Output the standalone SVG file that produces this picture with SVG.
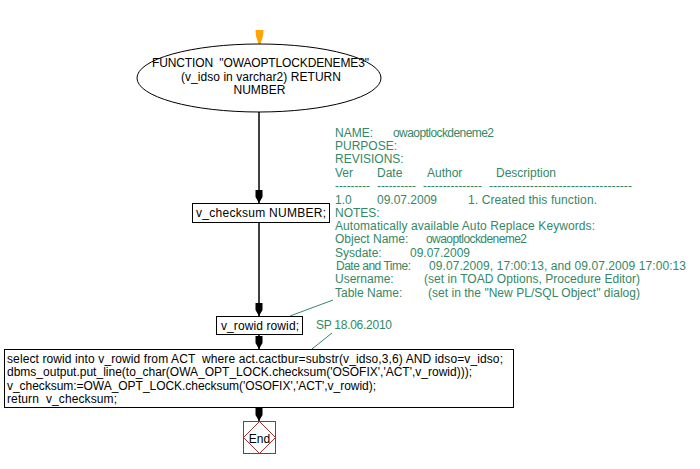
<svg xmlns="http://www.w3.org/2000/svg" width="700" height="469" viewBox="0 0 700 469">
<defs>
<style>
text{font-family:"Liberation Sans",Arial,sans-serif;font-size:12px;fill:#000;white-space:pre}
.c text{fill:#338866}
.box{fill:#fff;stroke:#000;stroke-width:1}
.flow{stroke:#000;stroke-width:1.5;fill:none}
.note{stroke:#338866;stroke-width:1;fill:none}
</style>
<marker id="ah" markerWidth="13" markerHeight="8" refX="13" refY="4" orient="auto" markerUnits="userSpaceOnUse" viewBox="0 0 13 8">
<path d="M0,0.5 L7,0.5 L13,4 L7,7.5 L0,7.5 Z" fill="#000"/>
</marker>
</defs>
<rect width="700" height="469" fill="#fff"/>

<g id="start">
<path d="M255.5,30 L263.5,30 L263,36 L260.5,44 L258.5,44 L256,36 Z" fill="#FFA500"/>
</g>

<g id="connectors">
<line class="flow" x1="259" y1="112" x2="259" y2="203" marker-end="url(#ah)"/>
<line class="flow" x1="259" y1="223" x2="259" y2="316" marker-end="url(#ah)"/>
<line class="flow" x1="259" y1="335" x2="259" y2="349" marker-end="url(#ah)"/>
<line class="flow" x1="259" y1="408" x2="259" y2="421" marker-end="url(#ah)"/>
<line class="note" x1="333" y1="300" x2="290" y2="316"/>
<line class="note" x1="332" y1="333" x2="312" y2="349"/>
</g>

<g id="func">
<ellipse cx="259" cy="78" rx="122" ry="34" fill="#fff" stroke="#000"/>
<text x="260.5" y="67" text-anchor="middle" textLength="217">FUNCTION  "OWAOPTLOCKDENEME3"</text>
<text x="261" y="81" text-anchor="middle" textLength="160">(v_idso in varchar2) RETURN</text>
<text x="259.5" y="94" text-anchor="middle">NUMBER</text>
</g>

<g id="decl1">
<rect class="box" x="192.5" y="203.5" width="137" height="19"/>
<text x="261" y="217" text-anchor="middle" textLength="130">v_checksum NUMBER;</text>
</g>

<g id="decl2">
<rect class="box" x="216.5" y="316.5" width="86" height="18"/>
<text x="260" y="330" text-anchor="middle" textLength="78">v_rowid rowid;</text>
</g>

<g id="body">
<rect class="box" x="4.5" y="349.5" width="509" height="58"/>
<text x="7" y="363" textLength="496">select rowid into v_rowid from ACT  where act.cactbur=substr(v_idso,3,6) AND idso=v_idso;</text>
<text x="7" y="376" textLength="465">dbms_output.put_line(to_char(OWA_OPT_LOCK.checksum('OSOFIX','ACT',v_rowid)));</text>
<text x="7" y="390" textLength="369">v_checksum:=OWA_OPT_LOCK.checksum('OSOFIX','ACT',v_rowid);</text>
<text x="7" y="403" textLength="110">return  v_checksum;</text>
</g>

<g id="end">
<rect x="243.5" y="421.5" width="32" height="32" fill="#fff" stroke="#993333"/>
<path d="M259.5,421.5 L275.5,437.5 L259.5,453.5 L243.5,437.5 Z" fill="none" stroke="#993333"/>
<text x="259.5" y="443" text-anchor="middle">End</text>
</g>

<g id="comment" class="c">
<text x="335" y="137">NAME:</text><text x="393" y="137" textLength="101">owaoptlockdeneme2</text>
<text x="335" y="150">PURPOSE:</text>
<text x="335" y="163">REVISIONS:</text>
<text x="335" y="177">Ver</text><text x="377" y="177">Date</text><text x="427" y="177">Author</text><text x="496" y="177">Description</text>
<text x="335" y="190" textLength="35" lengthAdjust="spacingAndGlyphs">---------</text><text x="377" y="190" textLength="39" lengthAdjust="spacingAndGlyphs">----------</text><text x="423" y="190" textLength="59" lengthAdjust="spacingAndGlyphs">---------------</text><text x="489" y="190" textLength="143" lengthAdjust="spacingAndGlyphs">-----------------------------------</text>
<text x="335" y="204">1.0</text><text x="377" y="204" textLength="60">09.07.2009</text><text x="468" y="204" textLength="129">1. Created this function.</text>
<text x="335" y="217">NOTES:</text>
<text x="335" y="230" textLength="260">Automatically available Auto Replace Keywords:</text>
<text x="335" y="243">Object Name:</text><text x="426" y="243" textLength="101">owaoptlockdeneme2</text>
<text x="335" y="257">Sysdate:</text><text x="410" y="257" textLength="60">09.07.2009</text>
<text x="336" y="270" textLength="75">Date and Time:</text><text x="429" y="270" textLength="257">09.07.2009, 17:00:13, and 09.07.2009 17:00:13</text>
<text x="335" y="283">Username:</text><text x="424" y="283" textLength="216">(set in TOAD Options, Procedure Editor)</text>
<text x="335" y="297">Table Name:</text><text x="428" y="297" textLength="212">(set in the "New PL/SQL Object" dialog)</text>
</g>

<g id="sp-note" class="c">
<text x="316" y="329" textLength="76">SP 18.06.2010</text>
</g>
</svg>
